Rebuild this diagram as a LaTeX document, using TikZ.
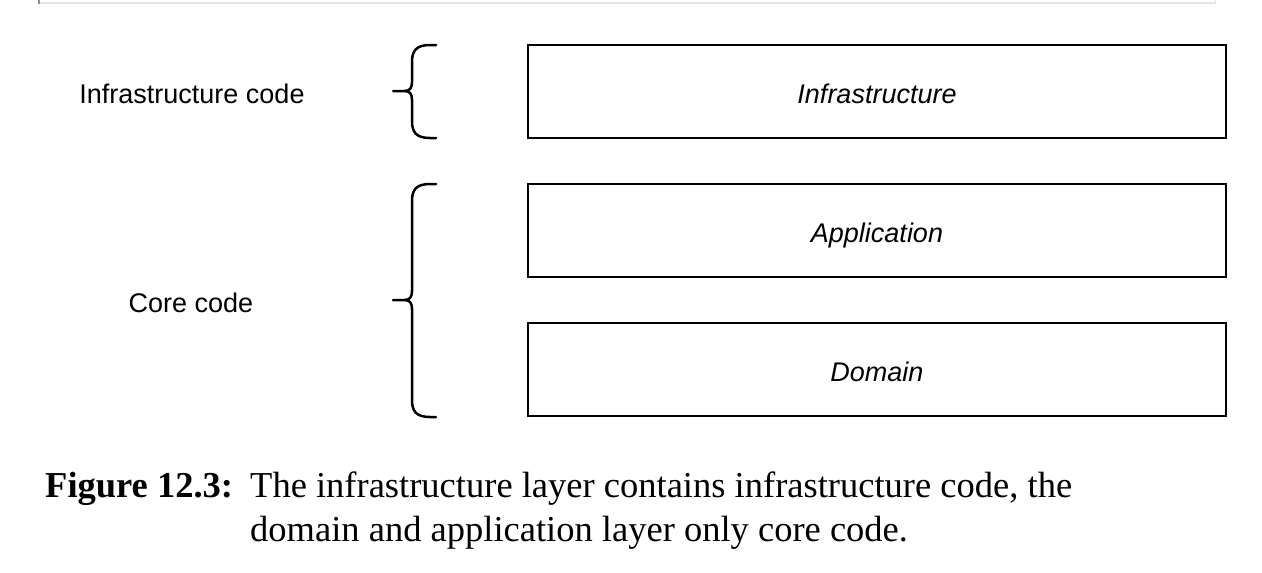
\documentclass[tikz,border=0pt]{standalone}
\usepackage{fontspec}
\setmainfont{Liberation Serif}
\newfontfamily\arial{Liberation Sans}
\begin{document}
\begin{tikzpicture}[x=1pt,y=-1pt,
  layer/.style={draw=black,line width=2.5pt,fill=white},
  lbl/.style={font=\arial\fontsize{27}{32}\selectfont,anchor=base,inner sep=0pt},
  boxtxt/.style={font=\arial\itshape\fontsize{27}{32}\selectfont,anchor=base,inner sep=0pt},
  captxt/.style={font=\fontsize{36.5}{44}\selectfont,anchor=base west,inner sep=0pt},
  bracepath/.style={draw=black,line width=2.5pt,line cap=round,line join=round}]
\useasboundingbox[fill=white] (0,0) rectangle (1262,573);
% top page edge remnants
\draw[draw=black!10,line width=1.5pt] (39,3) -- (1215,3);
\draw[draw=black!10,line width=1pt] (1215,0) -- (1215,4);
\draw[draw=black!45,line width=1.5pt] (39,0) -- (39,4);
% layer boxes
\draw[layer] (528,45) rectangle (1226,138);
\draw[layer] (528,184) rectangle (1226,277);
\draw[layer] (528,323) rectangle (1226,416);
\node[boxtxt] (infra) at (877,103) {Infrastructure};
\node[boxtxt] (app) at (877,242) {Application};
\node[boxtxt] (dom) at (877,381) {Domain};
% labels
\node[lbl] (infracode) at (192,103) {Infrastructure code};
\node[lbl] (corecode) at (191,312) {Core code};
% braces
\draw[bracepath] (436,45) -- (430,45) .. controls (416,45) and (412,51) .. (412,62)
  -- (412,82) .. controls (412,88) and (410,91) .. (404,91) -- (393,91)
  (404,91) .. controls (410,91) and (412,94) .. (412,100)
  -- (412,121) .. controls (412,132) and (416,138) .. (430,138) -- (436,138);
\draw[bracepath] (436,184) -- (430,184) .. controls (416,184) and (412,190) .. (412,201)
  -- (412,291) .. controls (412,297) and (410,300) .. (404,300) -- (393,300)
  (404,300) .. controls (410,300) and (412,303) .. (412,309)
  -- (412,400) .. controls (412,411) and (416,417) .. (430,417) -- (436,417);
% caption
\node[captxt,font=\bfseries\fontsize{36.5}{44}\selectfont] (figlbl) at (45,497) {Figure 12.3:};
\node[captxt] (cap1) at (250,497) {The infrastructure layer contains infrastructure code, the};
\node[captxt] (cap2) at (250,541) {domain and application layer only core code.};
\end{tikzpicture}
\end{document}
